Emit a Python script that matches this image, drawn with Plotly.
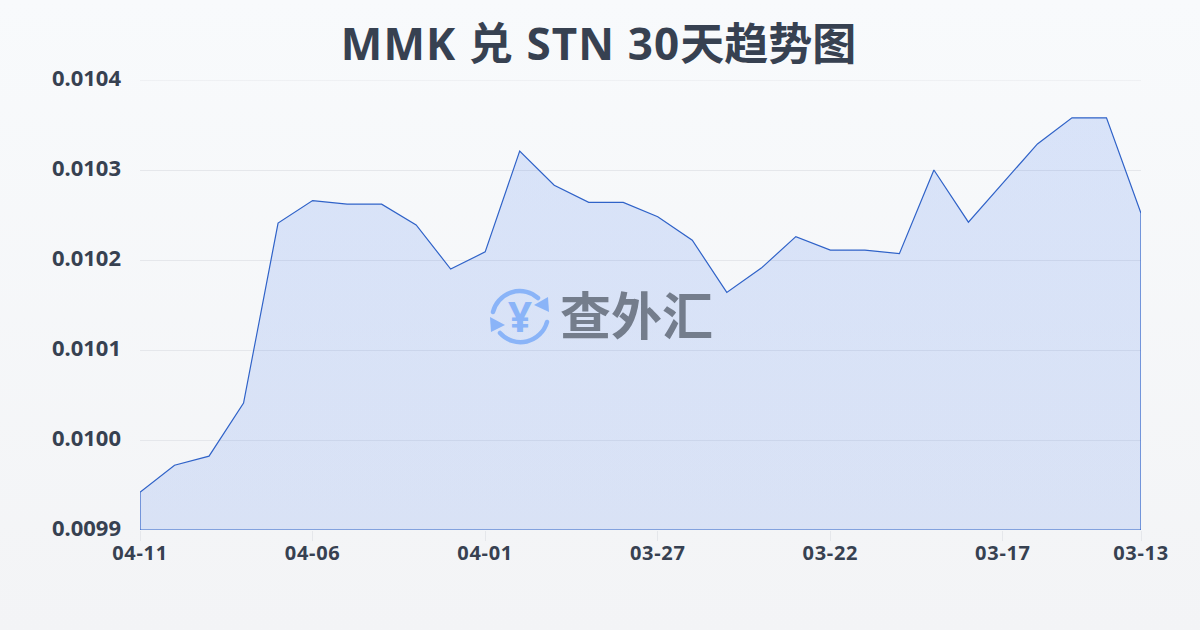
import base64
import plotly.graph_objects as go

dates = ["04-11","04-10","04-09","04-08","04-07","04-06","04-05","04-04","04-03","04-02",
         "04-01","03-31","03-30","03-29","03-28","03-27","03-26","03-25","03-24","03-23",
         "03-22","03-21","03-20","03-19","03-18","03-17","03-16","03-15","03-14","03-13"]
rates = [0.009942,0.009972,0.009982,0.010041,0.010241,0.010266,0.010262,0.010262,0.010239,0.010190,
         0.010209,0.010321,0.010283,0.010264,0.010264,0.010248,0.010222,0.010164,0.010191,0.010226,
         0.010211,0.010211,0.010207,0.010300,0.010242,0.010286,0.010329,0.010358,0.010358,0.010252]
x_ticks = ["04-11","04-06","04-01","03-27","03-22","03-17","03-13"]
y_ticks = [0.0099,0.0100,0.0101,0.0102,0.0103,0.0104]
title_latin = "MMK 兑 STN 30"
title_cjk = "天趋势图"
watermark = "查外汇"

W, H = 1200, 630
L, R, T, B = 140, 59, 80, 100
PW, PH = W - L - R, H - T - B

def uri(svg):
    return "data:image/svg+xml;base64," + base64.b64encode(svg.encode()).decode()

def spaced(text, px):
    return f'<span style="letter-spacing:{px}px"><b>{text}</b></span>'

bg_svg = f'''<svg xmlns="http://www.w3.org/2000/svg" width="{W}" height="{H}"><defs><linearGradient id="g" x1="0" y1="0" x2="0" y2="1"><stop offset="0" stop-color="#f8fafc"/><stop offset="1" stop-color="#f3f4f6"/></linearGradient></defs><rect width="{W}" height="{H}" fill="url(#g)"/></svg>'''
icon_svg = '''<svg xmlns="http://www.w3.org/2000/svg" width="64" height="64" viewBox="0 0 64 64"><g fill="none" stroke="#8ab4f8" stroke-width="4.5" stroke-linecap="round"><path d="M5 29 A27.5 27.5 0 0 1 50 15"/><path d="M59 39 A27.5 27.5 0 0 1 12 50"/></g><path d="M60 14 L61 29 L46 22 Z" fill="#8ab4f8"/><path d="M2 34 L3 49 L17 42 Z" fill="#8ab4f8"/></svg>'''

def px_x(p): return (p - L) / PW
def px_y(p): return 1 - (p - T) / PH

fig = go.Figure()
fig.add_trace(go.Scatter(
    x=dates + [dates[-1], dates[0], dates[0]],
    y=rates + [y_ticks[0], y_ticks[0], rates[0]],
    mode="lines", fill="toself",
    line=dict(color="#2f62c8", width=1.2),
    fillgradient=dict(type="vertical",
                      colorscale=[[0, "rgba(37,99,235,0.13)"], [1, "rgba(37,99,235,0.145)"]]),
    hoverinfo="skip", cliponaxis=False, showlegend=False,
))

fig.update_layout(
    width=W, height=H, margin=dict(l=L, r=R, t=T, b=B, autoexpand=False),
    paper_bgcolor="rgba(0,0,0,0)", plot_bgcolor="rgba(0,0,0,0)",
    font=dict(family="Noto Sans, Noto Sans CJK SC, sans-serif", color="#374151"),
    title=dict(text=spaced(title_latin, 1.1) + f"<b>{title_cjk}</b>", x=0.4988, xanchor="center", y=0.93, yanchor="middle",
               font=dict(size=44, family="Noto Sans, Noto Sans CJK SC, sans-serif", color="#374151")),
    xaxis=dict(type="category", categoryorder="array", categoryarray=dates,
               range=[0, len(dates) - 1], tickvals=x_ticks, ticktext=[spaced(t, 0.7) for t in x_ticks],
               ticks="outside", ticklen=10, tickwidth=1, tickcolor="#e5e7eb",
               showgrid=False, zeroline=False, showline=False, tickangle=0, ticklabelstandoff=-5,
               tickfont=dict(size=20, color="#374151")),
    yaxis=dict(range=[y_ticks[0], y_ticks[-1]], tickvals=y_ticks,
               ticktext=[f"<b>{v:.4f}</b>" for v in y_ticks],
               showgrid=True, gridcolor="#e5e7eb", gridwidth=1, zeroline=False, showline=False,
               ticks="", ticklabelstandoff=18, ticklabelshift=-2,
               tickfont=dict(size=22, color="#374151")),
    shapes=[dict(type="line", xref="paper", yref="y", x0=0, x1=1, y0=y_ticks[-1], y1=y_ticks[-1],
                 line=dict(color="#e5e7eb", width=1), layer="below")],
    images=[
        dict(source=uri(bg_svg), xref="paper", yref="paper", x=px_x(0), y=px_y(0),
             sizex=W / PW, sizey=H / PH, xanchor="left", yanchor="top", sizing="stretch", layer="below"),
        dict(source=uri(icon_svg), xref="paper", yref="paper", x=px_x(488), y=px_y(283),
             sizex=64 / PW, sizey=64 / PH, xanchor="left", yanchor="top", sizing="stretch", layer="above"),
    ],
    annotations=[
        dict(text="<b>¥</b>", xref="paper", yref="paper", x=px_x(520), y=px_y(315), showarrow=False,
             xanchor="center", yanchor="middle", font=dict(size=42, color="#8ab4f8", family="Noto Sans")),
        dict(text=f"<b>{watermark}</b>", xref="paper", yref="paper", x=px_x(636), y=px_y(313), showarrow=False,
             xanchor="center", yanchor="middle",
             font=dict(size=51, color="#747d8c", family="Noto Sans CJK SC")),
    ],
)

fig.write_html("out.html", config={"displayModeBar": False},
               post_script="document.body.style.margin='0';document.body.style.overflow='hidden';")
